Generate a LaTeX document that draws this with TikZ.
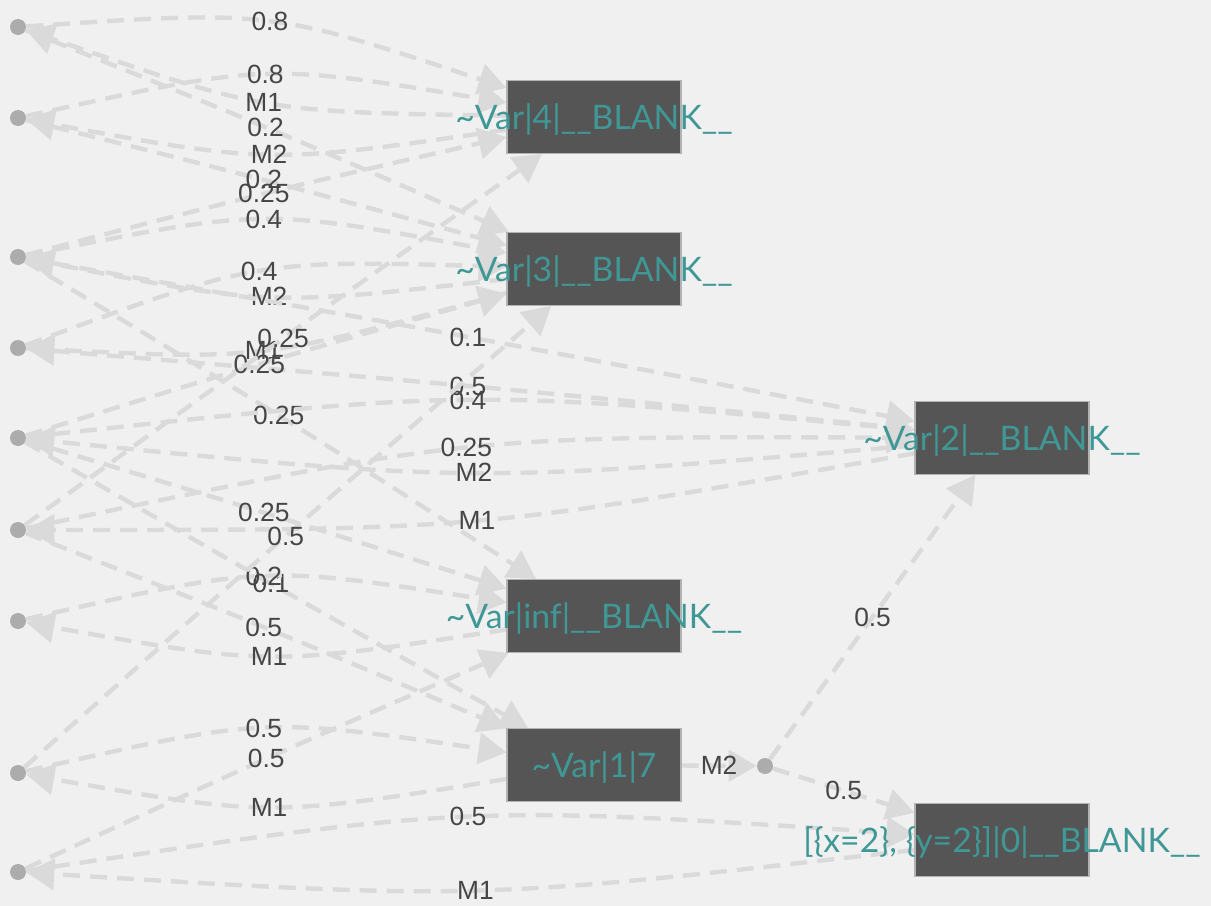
\documentclass[tikz,border=0pt]{standalone}
\usepackage{fontspec}
\setmainfont{Lato}
\newfontfamily\labelfont{Liberation Sans}
\usetikzlibrary{arrows.meta}
\usepackage{xcolor}
\definecolor{bgcol}{RGB}{240,240,240}
\definecolor{edgecol}{RGB}{218,218,218}
\definecolor{boxcol}{RGB}{85,85,85}
\definecolor{textcol}{RGB}{64,152,150}
\definecolor{dotcol}{RGB}{172,172,172}
\definecolor{labcol}{RGB}{70,70,70}
\pgfdeclarelayer{background}
\pgfsetlayers{background,main}
\tikzset{%
	state/.style={
		rectangle,
		draw=black!30,
		line width=0.6pt,
		fill=boxcol,
		minimum width=3.48cm,
		minimum height=1.46cm,
		inner sep=0pt
	},
	state text/.style={
		text=textcol,
		inner sep=0pt,
		yshift=-0.06cm,
		font=\fontsize{19.2}{22}\selectfont
	},
	action/.style={
		circle,
		fill=dotcol,
		minimum size=0.32cm,
		inner sep=0pt
	},
	trans/.style={
		draw=edgecol,
		line width=2.5pt,
		dash pattern=on 0.34cm off 0.2cm,
		-{Triangle[length=0.56cm,width=0.62cm]}
	},
	prob/.style={
		text=labcol,
		inner sep=0pt,
		font=\labelfont\fontsize{15}{17}\selectfont
	},
}

\begin{document}
\begin{tikzpicture}[x=0.02cm,y=-0.02cm]
	\useasboundingbox (0,0) rectangle (1211,906);
	
	% States
	\node[state] (s4) at (594,117) {};
	\node[state] (s3) at (594,269) {};
	\node[state] (s2) at (1002,438) {};
	\node[state] (sinf) at (594,616) {};
	\node[state] (s1) at (594,765) {};
	\node[state] (s0) at (1002,840) {};
	\node[state text] (t4) at (s4) {\textasciitilde Var|4|\_\_BLANK\_\_};
	\node[state text] (t3) at (s3) {\textasciitilde Var|3|\_\_BLANK\_\_};
	\node[state text] (t2) at (s2) {\textasciitilde Var|2|\_\_BLANK\_\_};
	\node[state text] (tinf) at (sinf) {\textasciitilde Var|inf|\_\_BLANK\_\_};
	\node[state text] (t1) at (s1) {\textasciitilde Var|1|7};
	\node[state text] (t0) at (s0) {[\{x=2\}, \{y=2\}]|0|\_\_BLANK\_\_};
	
	% Action points
	\node[action] (d1) at (18,27) {};
	\node[action] (d2) at (18,118) {};
	\node[action] (d3) at (18,257) {};
	\node[action] (d4) at (18,348) {};
	\node[action] (d5) at (18,438) {};
	\node[action] (d6) at (18,530) {};
	\node[action] (d7) at (18,621) {};
	\node[action] (d8) at (18,773) {};
	\node[action] (d9) at (18,872) {};
	\node[action] (d10) at (765,766) {};
	
	\begin{pgfonlayer}{background}
		\fill[bgcol] (0,0) rectangle (1211,906);
		
		% Choices of a state
		\draw[trans] (s4) .. controls (263,112) .. (d1) node[prob,midway] {M1};
		\draw[trans] (s4) .. controls (270,164) .. (d2) node[prob,midway] {M2};
		\draw[trans] (s3) .. controls (270,306) .. (d3) node[prob,midway] {M2};
		\draw[trans] (s3) .. controls (262,360) .. (d4) node[prob,midway] {M1};
		\draw[trans] (s2) .. controls (475,483) .. (d5) node[prob,midway] {M2};
		\draw[trans] (s2) .. controls (479,530) .. (d6) node[prob,midway] {M1};
		\draw[trans] (sinf) .. controls (270,666) .. (d7) node[prob,midway] {M1};
		\draw[trans] (s1) .. controls (270,817) .. (d8) node[prob,midway] {M1};
		\draw[trans] (s0) .. controls (477,900) .. (d9) node[prob,midway] {M1};
		\draw[trans] (s1) -- (d10) node[prob,midway] {M2};
		
		% Outcomes of a choice
		\draw[trans] (d1) .. controls (271,10) .. (s4) node[prob,midway] {0.8};
		\draw[trans] (d1) .. controls (265,126) .. (s3) node[prob,midway] {0.2};
		\draw[trans] (d2) .. controls (265,63) .. (s4) node[prob,midway] {0.8};
		\draw[trans] (d2) .. controls (263,179) .. (s3) node[prob,midway] {0.2};
		\draw[trans] (d3) .. controls (263,193) .. (s4) node[prob,midway] {0.25};
		\draw[trans] (d3) .. controls (263,208) .. (s3) node[prob,midway] {0.4};
		\draw[trans] (d3) .. controls (467,336) .. (s2) node[prob,midway] {0.1};
		\draw[trans] (d3) .. controls (278,414) .. (sinf) node[prob,midway] {0.25};
		\draw[trans] (d4) .. controls (257,260) .. (s3) node[prob,midway] {0.4};
		\draw[trans] (d4) .. controls (467,385) .. (s2) node[prob,midway] {0.5};
		\draw[trans] (d5) .. controls (467,389) .. (s2) node[prob,midway] {0.4};
		\draw[trans] (d5) .. controls (257,364) .. (s3) node[prob,midway] {0.25};
		\draw[trans] (d5) .. controls (263,512) .. (sinf) node[prob,midway] {0.25};
		\draw[trans] (d5) .. controls (269,583) .. (s1) node[prob,midway] {0.1};
		\draw[trans] (d6) .. controls (283,338) .. (s4) node[prob,midway] {0.25};
		\draw[trans] (d6) .. controls (465,436) .. (s2) node[prob,midway] {0.25};
		\draw[trans] (d6) .. controls (263,626) .. (s1) node[prob,midway] {0.5};
		\draw[trans] (d7) .. controls (263,565) .. (sinf) node[prob,midway] {0.2};
		\draw[trans] (d8) .. controls (263,717) .. (s1) node[prob,midway] {0.5};
		\draw[trans] (d8) .. controls (285,536) .. (s3) node[prob,midway] {0.5};
		\draw[trans] (d9) .. controls (266,758) .. (sinf) node[prob,midway] {0.5};
		\draw[trans] (d9) .. controls (467,805) .. (s0) node[prob,midway] {0.5};
		\draw[trans] (d10) -- (s2) node[prob,midway] {0.5};
		\draw[trans] (d10) -- (s0) node[prob,midway] {0.5};
	\end{pgfonlayer}
\end{tikzpicture}
\end{document}
